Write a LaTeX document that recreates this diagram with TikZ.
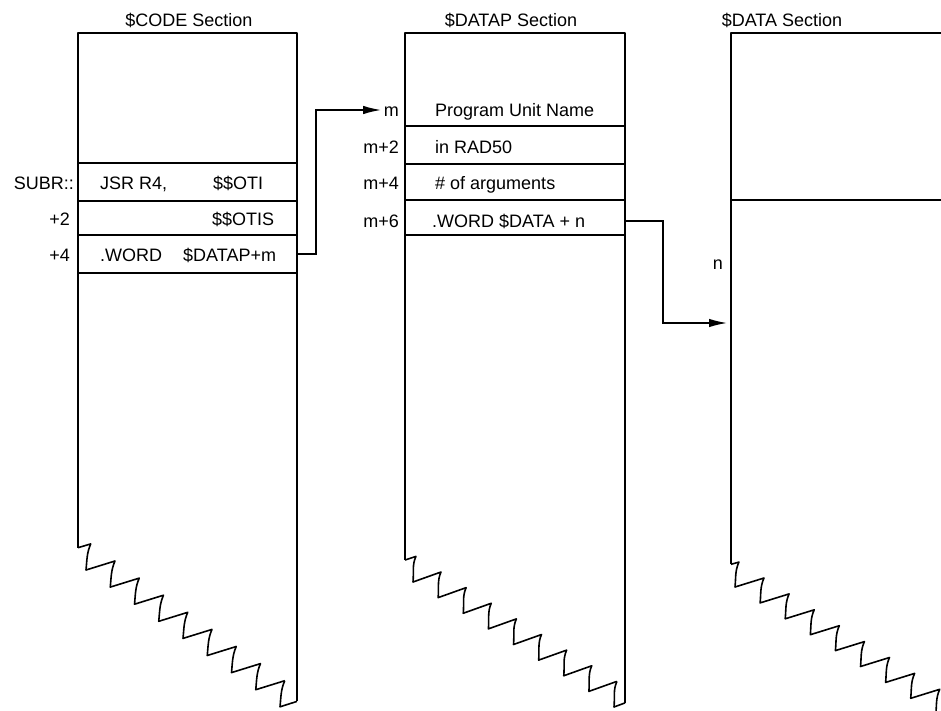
\documentclass[tikz,border=0pt]{standalone}
\usepackage{fontspec}
\setmainfont{Liberation Sans}
\usetikzlibrary{arrows.meta}
\begin{document}
\begin{tikzpicture}[x=1pt,y=-1pt,
  txt/.style={font=\fontsize{18}{21}\selectfont, inner sep=0pt, text height=13pt, text depth=0pt},
  colline/.style={line width=1.3pt, line join=round},
  tornline/.style={line width=1.6pt, line join=round},
  rowline/.style={line width=1.5pt},
  conn/.style={line width=1.5pt, -{Latex[length=18pt,width=8.5pt]}}]
\useasboundingbox (0,0) rectangle (941,711);
\begin{scope}
\clip (0,0) rectangle (941,711);

% headers
\node[txt] (hcode) at (189,20) {\$CODE Section};
\node[txt] (hdatap) at (511,20) {\$DATAP Section};
\node[txt] (hdata) at (782,20) {\$DATA Section};

% $CODE column outline with torn bottom
\draw[colline] (78,547.7) -- (78,33) -- (297,33) -- (297,701.4);
\draw[tornline] (297,701.4) -- (280,706.8)
  .. controls +(1,-10) and +(-4,9) .. (284.75,680.7);
\draw[tornline] (78,547.7) -- (90.75,543.9)
  foreach \k in {1,...,8} { .. controls +(-4,9) and +(1,-10) .. ({86+24.25*(\k-1)},{570+17.1*(\k-1)}) -- ++(29,-9) };
\draw[rowline] (78,163) -- (297,163);
\draw[rowline] (78,201) -- (297,201);
\draw[rowline] (78,235) -- (297,235);
\draw[rowline] (78,273) -- (297,273);

% $DATAP column
\draw[colline] (405,560) -- (405,33) -- (625,33) -- (625,702.9);
\draw[tornline] (625,702.9) -- (614,707)
  .. controls +(1,-10) and +(-4,9) .. (616.9,681.4);
\draw[tornline] (405,560) -- (415.9,556.4)
  foreach \k in {1,...,8} { .. controls +(-4,9) and +(1,-10) .. ({413+25.125*(\k-1)},{582+15.625*(\k-1)}) -- ++(28,-10) };
\draw[rowline] (405,126) -- (625,126);
\draw[rowline] (405,164) -- (625,164);
\draw[rowline] (405,200) -- (625,200);
\draw[rowline] (405,235) -- (625,235);

% $DATA column
\draw[colline] (941,33) -- (731,33) -- (731,564.3);
\draw[tornline] (731,564.3) -- (738.9,562.1)
  foreach \k in {1,...,9} { .. controls +(-4,9) and +(1,-10) .. ({735+25.1*(\k-1)},{587+15.9*(\k-1)}) -- ++(29,-9) };
\draw[rowline] (731,200) -- (941,200);

% $CODE texts
\node[txt, anchor=east] (subr) at (74,183) {SUBR::};
\node[txt, anchor=west] (jsr) at (100,183) {JSR R4,};
\node[txt, anchor=west] (oti) at (213,183) {\$\$OTI};
\node[txt, anchor=east] (p2) at (70,219) {+2};
\node[txt, anchor=west] (otis) at (212,219) {\$\$OTIS};
\node[txt, anchor=east] (p4) at (70,255) {+4};
\node[txt, anchor=west] (word1) at (100,255) {.WORD};
\node[txt, anchor=west] (datapm) at (183,255) {\$DATAP+m};

% $DATAP texts
\node[txt, anchor=east] (mlab) at (399,110) {m};
\node[txt, anchor=west] (pun) at (435,110) {Program Unit Name};
\node[txt, anchor=east] (m2) at (399,147) {m+2};
\node[txt, anchor=west] (rad) at (435,147) {in RAD50};
\node[txt, anchor=east] (m4) at (399,183) {m+4};
\node[txt, anchor=west] (args) at (435,183) {\# of arguments};
\node[txt, anchor=east] (m6) at (399,221) {m+6};
\node[txt, anchor=west] (word2) at (432,221) {.WORD \$DATA + n};

% $DATA texts
\node[txt, anchor=east] (nlab) at (723,263) {n};

% connectors
\coordinate (c4) at (297,254);
\coordinate (d6) at (625,221);
\coordinate (nt) at (727,323);
\draw[conn, shorten >=2.5pt] (c4) -- ++(19,0) |- (mlab.west);
\draw[conn] (d6) -- ++(38,0) |- (nt);
\end{scope}
\end{tikzpicture}
\end{document}
